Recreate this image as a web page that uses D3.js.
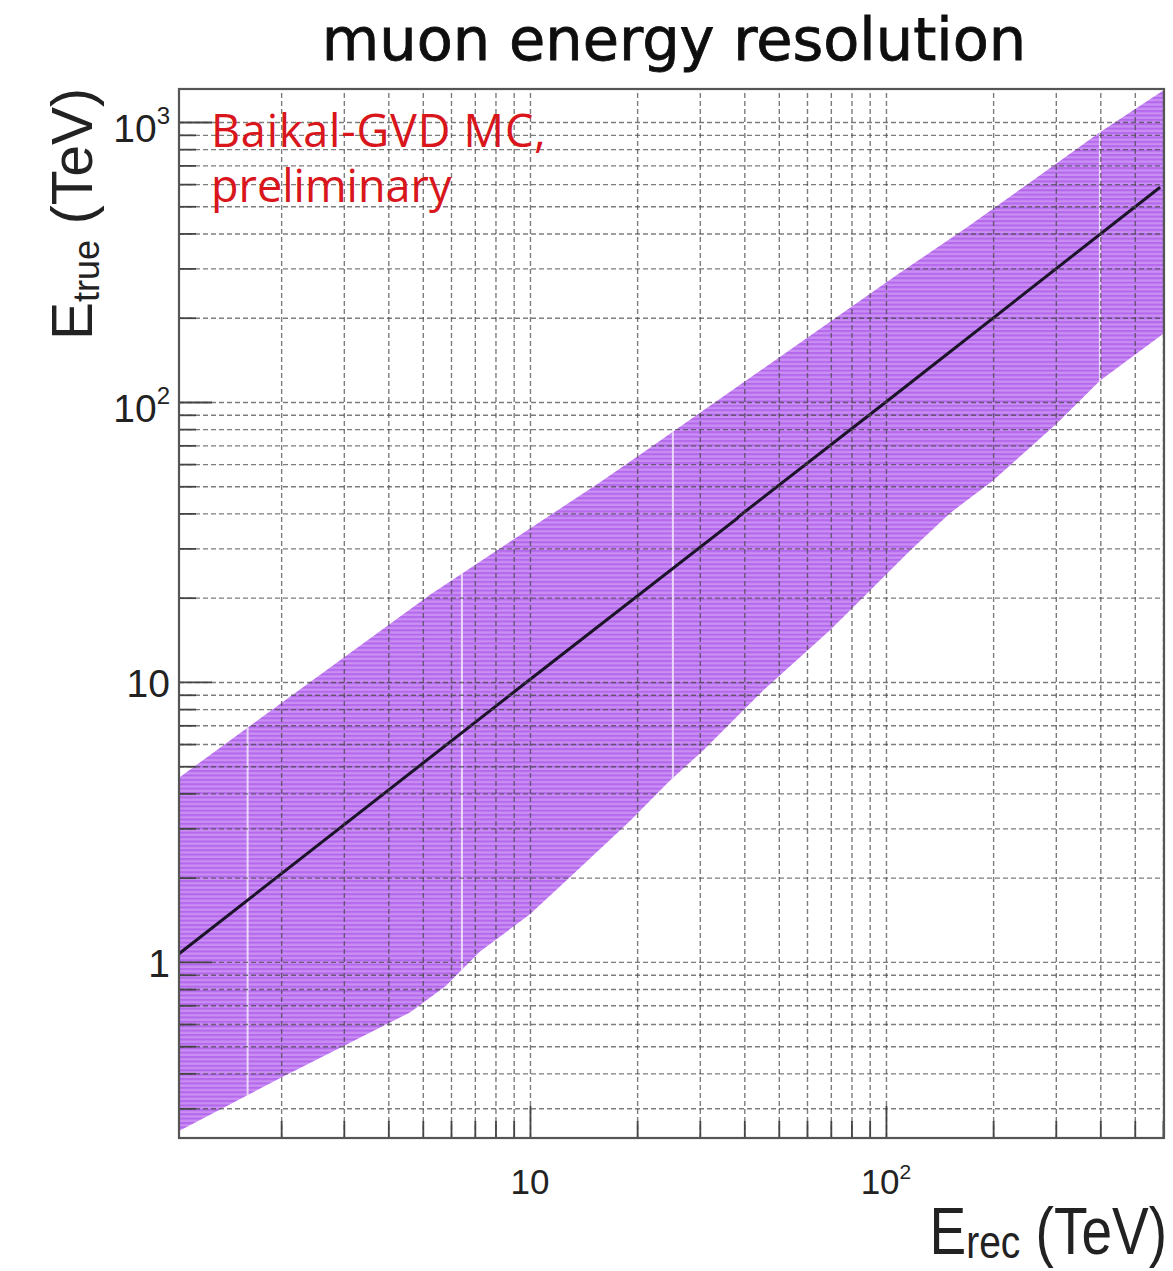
<!DOCTYPE html>
<html>
<head>
<meta charset="utf-8">
<script src="https://cdn.jsdelivr.net/npm/d3@7"></script>
<style>
  body { margin: 0; background: #ffffff; }
  svg { display: block; }
</style>
</head>
<body>
<svg id="chart" width="1173" height="1271"></svg>
<script>
// Axis ranges (TeV)
const xDomain = [1.033, 604];
const yDomain = [0.235, 1312];

// Tick positions
const xMajorTicks = [10, 100];
const xMinorTicks = [2, 3, 4, 5, 6, 7, 8, 9, 20, 30, 40, 50, 60, 70, 80, 90, 200, 300, 400, 500, 600];
const yMajorTicks = [1, 10, 100, 1000];
const yMinorTicks = [0.3, 0.4, 0.5, 0.6, 0.7, 0.8, 0.9, 2, 3, 4, 5, 6, 7, 8, 9,
                     20, 30, 40, 50, 60, 70, 80, 90, 200, 300, 400, 500, 600, 700, 800, 900];

// Tick labels: mantissa + exponent (exponent drawn as superscript)
const xTickLabels = [["10", ""], ["10", "2"]];
const yTickLabels = [["1", ""], ["10", ""], ["10", "2"], ["10", "3"]];

// Resolution band: upper and lower edges of E_true vs E_rec
const upperErec  = [1.033, 1.99, 5.24, 15.7, 20.8, 109, 169, 259, 399, 604];
const upperEtrue = [4.55, 8.36, 20.5, 51.6, 66.0, 288, 421, 620, 920, 1300];
const lowerErec  = [1.033, 1.99, 4.6, 5.8, 7.24, 10, 12.9, 19.1, 24.7, 30.6, 45.1, 69.6, 88.5, 117, 151, 200, 302, 399, 604];
const lowerEtrue = [0.249, 0.385, 0.66, 0.82, 1.09, 1.48, 2.00, 3.19, 4.44, 5.68, 9.31, 15.3, 20.7, 29.5, 40.0, 52.4, 83.8, 119, 176];

// Median curve
const medianErec  = [1.033, 10, 38.2, 38.6, 100, 589];
const medianEtrue = [1.07, 10.2, 38.4, 39.0, 100, 585];

// Light seams between band segments
const seamErec = [1.61, 6.44, 25.2, 399];

const titleText = "muon energy resolution";
const noteLines = ["Baikal-GVD MC,", "preliminary"];

// ---------------------------------------------------------------
const svg = d3.select("#chart");
const frame = { left: 179, right: 1164, top: 89, bottom: 1138 };

const x = d3.scaleLog().domain(xDomain).range([frame.left, frame.right]);
const y = d3.scaleLog().domain(yDomain).range([frame.bottom, frame.top]);

const defs = svg.append("defs");
const pat = defs.append("pattern")
  .attr("id", "bandFill").attr("patternUnits", "userSpaceOnUse")
  .attr("width", 10).attr("height", 4.4);
pat.append("rect").attr("width", 10).attr("height", 4.4).attr("fill", "#ca8ff3");
pat.append("rect").attr("width", 10).attr("height", 2.1).attr("fill", "#b468ec");

defs.append("clipPath").attr("id", "plotClip")
  .append("rect")
  .attr("x", frame.left).attr("y", frame.top)
  .attr("width", frame.right - frame.left).attr("height", frame.bottom - frame.top);

// Band polygon: upper edge left->right, lower edge right->left
const upperPts = upperErec.map((e, i) => [e, upperEtrue[i]]);
const lowerPts = lowerErec.map((e, i) => [e, lowerEtrue[i]]).reverse();
const bandPts = upperPts.concat(lowerPts);
const bandLine = d3.line().x(d => x(d[0])).y(d => y(d[1]));

defs.append("clipPath").attr("id", "bandClip")
  .append("path").attr("d", bandLine(bandPts) + "Z");

const plot = svg.append("g").attr("clip-path", "url(#plotClip)");

plot.append("path")
  .attr("d", bandLine(bandPts) + "Z")
  .attr("fill", "url(#bandFill)");

// seams inside the band
plot.append("g").attr("clip-path", "url(#bandClip)")
  .selectAll("line").data(seamErec).join("line")
  .attr("x1", d => x(d)).attr("x2", d => x(d))
  .attr("y1", frame.top).attr("y2", frame.bottom)
  .attr("stroke", "#f4e8fc").attr("stroke-width", 2).attr("opacity", 0.85);

// Dashed grid
const gridX = svg.append("g")
  .attr("transform", `translate(0,${frame.bottom})`)
  .call(d3.axisBottom(x).tickValues(xMajorTicks.concat(xMinorTicks))
    .tickSize(-(frame.bottom - frame.top)).tickFormat(""));
const gridY = svg.append("g")
  .attr("transform", `translate(${frame.left},0)`)
  .call(d3.axisLeft(y).tickValues(yMajorTicks.concat(yMinorTicks))
    .tickSize(-(frame.right - frame.left)).tickFormat(""));
[gridX, gridY].forEach(g => {
  g.select(".domain").remove();
  g.selectAll("line")
    .attr("stroke", "#444").attr("stroke-opacity", 0.7)
    .attr("stroke-width", 1.4).attr("stroke-dasharray", "5,3");
});

// Median line
plot.append("path")
  .datum(medianErec.map((e, i) => [e, medianEtrue[i]]))
  .attr("d", bandLine)
  .attr("fill", "none").attr("stroke", "#1c1428").attr("stroke-width", 3);

// Axis ticks
function tickAxis(axis, vals, size, transform) {
  const g = svg.append("g").attr("transform", transform)
    .call(axis.tickValues(vals).tickSize(size).tickFormat(""));
  g.select(".domain").remove();
  g.selectAll("line").attr("stroke", "#444").attr("stroke-width", 1.8);
  return g;
}
tickAxis(d3.axisBottom(x), xMinorTicks, -17, `translate(0,${frame.bottom})`);
tickAxis(d3.axisBottom(x), xMajorTicks, -32, `translate(0,${frame.bottom})`);
tickAxis(d3.axisLeft(y), yMinorTicks, -17, `translate(${frame.left},0)`);
tickAxis(d3.axisLeft(y), yMajorTicks, -33, `translate(${frame.left},0)`);

// Frame
svg.append("rect")
  .attr("x", frame.left).attr("y", frame.top)
  .attr("width", frame.right - frame.left).attr("height", frame.bottom - frame.top)
  .attr("fill", "none").attr("stroke", "#555").attr("stroke-width", 2.2);

// Tick labels
const labelFont = "'Liberation Sans', Arial, sans-serif";
xMajorTicks.forEach((v, i) => {
  const [m, e] = xTickLabels[i];
  const t = svg.append("text")
    .attr("x", x(v)).attr("y", 1194)
    .attr("text-anchor", "middle")
    .attr("font-family", labelFont).attr("font-size", 35).attr("fill", "#222")
    .text(m);
  if (e) t.append("tspan").attr("font-size", 21).attr("dy", -15).text(e);
});
yMajorTicks.forEach((v, i) => {
  const [m, e] = yTickLabels[i];
  const t = svg.append("text")
    .attr("x", 170).attr("y", y(v) + (e ? 20 : 15))
    .attr("text-anchor", "end")
    .attr("font-family", labelFont).attr("font-size", 39).attr("fill", "#222")
    .text(m);
  if (e) t.append("tspan").attr("font-size", 24).attr("dy", -18).text(e);
});

// Axis titles
const xt = svg.append("text")
  .attr("transform", "translate(1167,1254) scale(1,1.2)")
  .attr("text-anchor", "end")
  .attr("font-family", labelFont).attr("font-size", 55).attr("fill", "#222");
xt.append("tspan").text("E");
xt.append("tspan").attr("font-size", 39).attr("dy", 3).text("rec");
xt.append("tspan").attr("dy", -3).text(" (TeV)");

const yt = svg.append("text")
  .attr("transform", "translate(92,88) rotate(-90)")
  .attr("text-anchor", "end")
  .attr("font-family", labelFont).attr("font-size", 57).attr("fill", "#222");
yt.append("tspan").text("E");
yt.append("tspan").attr("font-size", 36).attr("dy", 7).text("true");
yt.append("tspan").attr("dy", -7).text(" (TeV)");

// Title
svg.append("text")
  .attr("x", 674).attr("y", 60)
  .attr("text-anchor", "middle")
  .attr("font-family", "'DejaVu Sans', Verdana, sans-serif")
  .attr("font-size", 59).attr("fill", "#0e0e0e")
  .attr("stroke", "#0e0e0e").attr("stroke-width", 0.8)
  .text(titleText);

// Annotation
svg.append("g").selectAll("text").data(noteLines).join("text")
  .attr("x", 211).attr("y", (d, i) => 147 + i * 55)
  .attr("font-family", "'Open Sans', sans-serif")
  .attr("font-size", 45).attr("fill", "#d8161c")
  .attr("letter-spacing", (d, i) => i === 0 ? 0.8 : 0)
  .text(d => d);
</script>
</body>
</html>
